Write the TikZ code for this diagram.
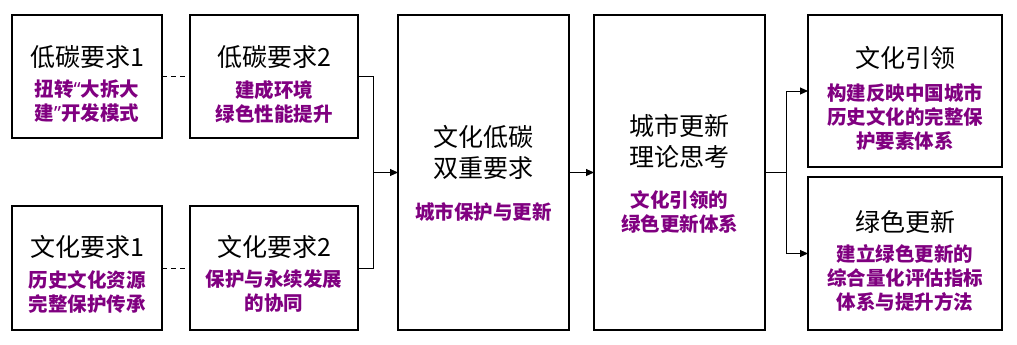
\documentclass[tikz,border=0pt]{standalone}
\usepackage{fontspec}
\setmainfont{Noto Sans CJK SC}
\newfontfamily\latinq{Noto Sans}
\usetikzlibrary{arrows.meta}
\definecolor{pur}{HTML}{800080}
\tikzset{
  box/.style={draw, line width=2pt, rectangle, inner sep=0pt, outer sep=0pt},
  ttl/.style={inner sep=0pt, align=center, font=\fontsize{25}{31}\selectfont},
  sub/.style={inner sep=0pt, align=center, text=pur, font=\fontsize{19.5}{24}\selectfont\bfseries},
  conn/.style={line width=1pt},
  dconn/.style={line width=1pt, dash pattern=on 5pt off 4pt},
  arr/.style={line width=1pt, -{Triangle[length=8pt,width=7pt]}}
}
\begin{document}
\begin{tikzpicture}[x=1pt,y=-1pt]
\useasboundingbox (0,0) rectangle (1017,345);
% boxes
\node[box, minimum width=150pt, minimum height=123pt] (a1) at (87,76.5) {};
\node[box, minimum width=168pt, minimum height=123pt] (a2) at (274,76.5) {};
\node[box, minimum width=150pt, minimum height=124pt] (b1) at (87,268) {};
\node[box, minimum width=168pt, minimum height=124pt] (b2) at (274,268) {};
\node[box, minimum width=171pt, minimum height=315pt] (c) at (483.5,172.5) {};
\node[box, minimum width=171pt, minimum height=315pt] (d) at (679.5,172.5) {};
\node[box, minimum width=194pt, minimum height=152pt] (e) at (905,91) {};
\node[box, minimum width=194pt, minimum height=153pt] (f) at (905,253.5) {};
% texts
\node[ttl] (a1t) at (87,57) {低碳要求1};
\node[sub] (a1s) at (87,101.5) {扭转{\latinq “}大拆大\\建{\latinq ”}开发模式};
\node[ttl] (a2t) at (274,57) {低碳要求2};
\node[sub] (a2s) at (274,101.5) {建成环境\\绿色性能提升};
\node[ttl] (b1t) at (87,247) {文化要求1};
\node[sub] (b1s) at (87,291.5) {历史文化资源\\完整保护传承};
\node[ttl] (b2t) at (274,247) {文化要求2};
\node[sub] (b2s) at (274,291.5) {保护与永续发展\\的协同};
\node[ttl] (ct) at (483.5,152.5) {文化低碳\\双重要求};
\node[sub] (cs) at (483.5,212) {城市保护与更新};
\node[ttl] (dt) at (679.5,141.5) {城市更新\\理论思考};
\node[sub] (ds) at (679.5,211.5) {文化引领的\\绿色更新体系};
\node[ttl] (et) at (905,58) {文化引领};
\node[sub] (es) at (905,117) {构建反映中国城市\\历史文化的完整保\\护要素体系};
\node[ttl] (ft) at (905,222) {绿色更新};
\node[sub] (fs) at (905,278) {建立绿色更新的\\综合量化评估指标\\体系与提升方法};
% connectors
\coordinate (j1) at (373,172.5);
\coordinate (j2) at (786,172.5);
\draw[dconn] (a1.east) -- (a2.west);
\draw[dconn] (b1.east) -- (b2.west);
\draw[conn] (a2.east) -| (j1);
\draw[conn] (b2.east) -| (j1);
\draw[arr] (j1) -- (c.west);
\draw[arr] (c.east) -- (d.west);
\draw[conn] (d.east) -- (j2);
\draw[arr] (j2) |- (e.west);
\draw[arr] (j2) |- (f.west);
\end{tikzpicture}
\end{document}
